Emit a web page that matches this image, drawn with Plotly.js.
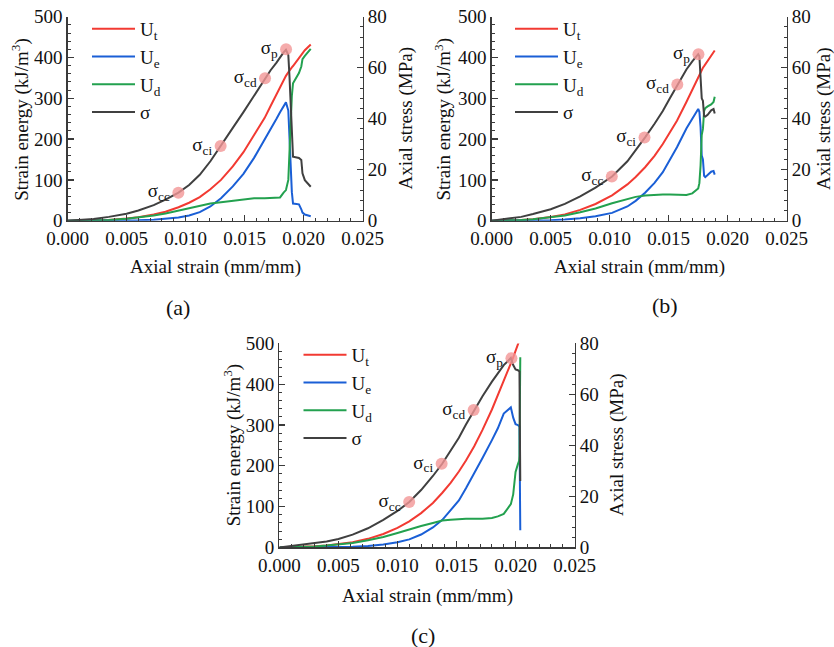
<!DOCTYPE html>
<html>
<head>
<meta charset="utf-8">
<script src="https://cdn.plot.ly/plotly-3.0.1.min.js"></script>
<style>
  html, body { margin: 0; padding: 0; background: #ffffff; }
  #chart { width: 834px; height: 647px; }
</style>
</head>
<body>
<div id="chart"></div>
<script>
// ---------------- data ----------------
const seriesNames = ['U<sub>t</sub>', 'U<sub>e</sub>', 'U<sub>d</sub>', 'σ'];
const keyLabels = ['σ<sub>cc</sub>', 'σ<sub>ci</sub>', 'σ<sub>cd</sub>', 'σ<sub>p</sub>'];
const panelLabels = ['(a)', '(b)', '(c)'];

// Panel (a)
const strainA = [0, 0.0010, 0.0022, 0.0035, 0.0050, 0.0060, 0.0073, 0.0083, 0.0094, 0.0103,
                 0.0112, 0.0121, 0.0130, 0.0140, 0.0149, 0.0158, 0.0167, 0.0172, 0.0177, 0.0180,
                 0.0183, 0.0185, 0.0187, 0.0188, 0.0189, 0.0190, 0.0191, 0.0196, 0.0198, 0.0199,
                 0.0201, 0.0206];
const utA = [0, 0.1, 0.6, 2.0, 5.2, 8.5, 15, 22, 33, 44,
             58, 77, 100, 133, 168, 209, 252, 281, 310, 328,
             344, 355, 364, 369, 373, 376, 379, 400, 408, 412,
             418, 432];
const ueA = [0, 0, 0, 0.2, 0.5, 1.0, 2.4, 4.4, 7.8, 12.6,
             21, 35, 55, 84, 115, 154, 198, 224, 250, 266,
             282, 290, 270, 200, 124, 70, 42, 40, 28, 20,
             15, 11];
const udA = [0, 0.1, 0.6, 1.8, 4.7, 7.5, 12.6, 17.6, 25.2, 31.4,
             37, 42, 45, 49, 53, 55, 55, 56, 56, 57,
             69, 75, 100, 170, 250, 306, 337, 362, 378, 396,
             404, 421];
const sigmaA = [0, 0.2, 0.65, 1.5, 2.7, 4.0, 6.1, 8.3, 11.0, 14.0,
                18.0, 23.3, 29.3, 36.4, 42.6, 49.1, 55.6, 59.0, 62.0, 64.2,
                66.0, 67.0, 65.0, 56.5, 43.4, 32.9, 25.1, 24.6, 23.8, 18.6,
                15.9, 13.3];
const keyStrainA = [0.00939, 0.01297, 0.01673, 0.01851];
const keyStressA = [11.0, 29.3, 55.9, 67.2];

// Panel (b)
const strainB = [0, 0.0010, 0.0018, 0.0025, 0.0035, 0.0050, 0.0062, 0.0075, 0.0088, 0.0102,
                 0.0115, 0.0122, 0.0130, 0.0138, 0.0145, 0.0151, 0.0157, 0.0165, 0.0170, 0.0175,
                 0.0176, 0.0177, 0.0178, 0.0179, 0.0180, 0.0181, 0.0183, 0.0186, 0.0188, 0.0189];
const utB = [0, 0.3, 0.9, 1.7, 3.7, 9, 15.5, 26.5, 41, 62,
             89, 107, 131, 159, 188, 215, 245, 291, 322, 353,
             359, 365, 370, 375, 379, 383, 392, 405, 413, 417];
const ueB = [0, 0, 0.1, 0.1, 0.4, 1.3, 2.8, 5.8, 10.9, 19.2,
             34.9, 48.6, 68.7, 92.8, 119, 148, 180, 226, 251, 274,
             267, 230, 160, 150, 110, 107, 112, 120, 122, 113];
const udB = [0, 0.3, 0.8, 1.6, 3.3, 7.7, 12.7, 20.7, 30, 42.8,
             54, 58.4, 62, 64, 64, 64, 63, 63, 67, 79,
             92, 135, 210, 225, 269, 276, 280, 285, 291, 304];
const sigmaB = [0, 0.6, 0.9, 1.5, 2.6, 4.5, 6.6, 9.5, 13.0, 17.3,
                23.3, 27.5, 32.7, 38.0, 43.0, 48.0, 53.0, 59.3, 62.5, 65.3,
                64.5, 58, 48, 47, 41, 40.8, 41.5, 43.3, 43.8, 42];
const keyStrainB = [0.01018, 0.01295, 0.01573, 0.01752];
const keyStressB = [17.3, 32.6, 53.4, 65.3];

// Panel (c)
const strainC = [0, 0.0015, 0.0030, 0.0040, 0.0050, 0.0062, 0.0075, 0.0088, 0.0100, 0.0110,
                 0.0120, 0.0130, 0.0138, 0.0145, 0.0152, 0.0158, 0.0165, 0.0172, 0.0180, 0.0185,
                 0.0190, 0.0194, 0.0196, 0.0198, 0.0200, 0.0202, 0.0203, 0.02033, 0.0204];
const utC = [0, 0.6, 2.7, 4.8, 7.6, 12.6, 21, 33, 48, 64,
             84, 109, 134, 158, 186, 213, 248, 288, 338, 372,
             407, 436, 451, 466, 484, 499, 506, 508, 512];
const ueC = [0, 0, 0.2, 0.3, 0.7, 1.6, 3.5, 7.3, 12.7, 19.7,
             31.5, 49, 67.4, 90, 115, 145, 181, 219, 263, 292,
             328, 338, 343, 318, 302, 300, 298, 296, 42];
const udC = [0, 0.6, 2.5, 4.5, 6.9, 11, 17.5, 25.7, 35.3, 44.3,
             52.5, 60, 66, 68, 70, 70, 70, 70, 72, 76,
             82, 98, 106, 130, 185, 204, 212, 225, 466];
const sigmaC = [0, 0.8, 1.8, 2.3, 3.3, 5.0, 7.5, 10.8, 14.3, 17.8,
                22.5, 28.0, 32.9, 38.0, 43.0, 48.2, 53.9, 59.3, 65.0, 68.5,
                71.5, 73.3, 74.3, 71.5, 69.8, 69.5, 69.3, 69.0, 26];
const keyStrainC = [0.01099, 0.01374, 0.01645, 0.01965];
const keyStressC = [17.8, 32.8, 53.9, 74.2];

// ---------------- styling ----------------
const FONT = '"Liberation Serif", "Times New Roman", Times, serif';
const colors = ['#f23a32', '#1a5fd6', '#23a14f', '#404040'];
const axisColor = '#3a3a3a';

const panels = [
  {x: 'x',  yl: 'y',  yr: 'y2', legend: 'legend',  strain: strainA, ut: utA, ue: ueA, ud: udA, sig: sigmaA, ks: keyStrainA, kv: keyStressA},
  {x: 'x2', yl: 'y3', yr: 'y4', legend: 'legend2', strain: strainB, ut: utB, ue: ueB, ud: udB, sig: sigmaB, ks: keyStrainB, kv: keyStressB},
  {x: 'x3', yl: 'y5', yr: 'y6', legend: 'legend3', strain: strainC, ut: utC, ue: ueC, ud: udC, sig: sigmaC, ks: keyStrainC, kv: keyStressC}
];

const traces = [];
panels.forEach(p => {
  const ys = [p.ut, p.ue, p.ud];
  ys.forEach((arr, i) => {
    traces.push({
      type: 'scatter', mode: 'lines', x: p.strain, y: arr,
      xaxis: p.x, yaxis: p.yl, name: seriesNames[i], legend: p.legend,
      line: {color: colors[i], width: 2}, hoverinfo: 'skip'
    });
  });
  traces.push({
    type: 'scatter', mode: 'lines', x: p.strain, y: p.sig,
    xaxis: p.x, yaxis: p.yr, name: seriesNames[3], legend: p.legend,
    line: {color: colors[3], width: 2}, hoverinfo: 'skip'
  });
  traces.push({
    type: 'scatter', mode: 'markers+text', x: p.ks, y: p.kv,
    xaxis: p.x, yaxis: p.yr, showlegend: false, text: keyLabels,
    textposition: 'middle left',
    textfont: {family: FONT, size: 19, color: '#111'},
    marker: {size: 12, color: 'rgba(243,150,150,0.8)', line: {width: 0}},
    hoverinfo: 'skip'
  });
});

function xAxis(domain, anchor) {
  return {
    domain: domain, anchor: anchor, range: [0, 0.025], dtick: 0.005, tick0: 0,
    tickformat: '.3f', showgrid: false, zeroline: false,
    showline: true, linecolor: axisColor, linewidth: 1.3,
    ticks: 'inside', ticklen: 6, tickwidth: 1.3, tickcolor: axisColor,
    minor: {dtick: 0.001, ticks: 'inside', ticklen: 3, tickcolor: axisColor, tickwidth: 1},
    tickfont: {family: FONT, size: 19, color: '#111'}, fixedrange: true
  };
}
function yLeft(domain, anchor) {
  return {
    domain: domain, anchor: anchor, range: [0, 500], dtick: 100, tick0: 0,
    showgrid: false, zeroline: false,
    showline: true, linecolor: axisColor, linewidth: 1.3,
    ticks: 'inside', ticklen: 6, tickwidth: 1.3, tickcolor: axisColor,
    minor: {dtick: 20, ticks: 'inside', ticklen: 3, tickcolor: axisColor, tickwidth: 1},
    tickfont: {family: FONT, size: 19, color: '#111'}, fixedrange: true
  };
}
function yRight(overlay, anchor) {
  return {
    overlaying: overlay, anchor: anchor, side: 'right', range: [0, 80], dtick: 20, tick0: 0,
    showgrid: false, zeroline: false,
    showline: true, linecolor: axisColor, linewidth: 1.3,
    ticks: 'inside', ticklen: 6, tickwidth: 1.3, tickcolor: axisColor,
    minor: {dtick: 4, ticks: 'inside', ticklen: 3, tickcolor: axisColor, tickwidth: 1},
    tickfont: {family: FONT, size: 19, color: '#111'}, fixedrange: true
  };
}
function legendAt(x, y) {
  return {
    x: x, y: y, xanchor: 'left', yanchor: 'top', xref: 'paper', yref: 'paper',
    bgcolor: 'rgba(0,0,0,0)', borderwidth: 0, itemwidth: 43,
    font: {family: FONT, size: 19, color: '#111'}, tracegroupgap: 0
  };
}

const W = 834, H = 647;
const px = v => v / W;
const py = v => (H - v) / H;

const topY = [py(220.7), py(16.7)];
const botY = [py(547.4), py(343.4)];

function title(text, x, y, angle, size) {
  return {
    text: text, x: x, y: y, xref: 'paper', yref: 'paper', showarrow: false,
    xanchor: 'center', yanchor: 'middle', textangle: angle || 0,
    font: {family: FONT, size: size || 19, color: '#111'}
  };
}

const annotations = [
  // panel (a)
  title('Axial strain (mm/mm)', px(215.5), py(267)),
  title('Strain energy (kJ/m<sup>3</sup>)', px(20.7), py(119), -90),
  title('Axial stress (MPa)', px(405.5), py(119), -90),
  title(panelLabels[0], px(178), py(307), 0, 22),
  // panel (b)
  title('Axial strain (mm/mm)', px(639), py(267)),
  title('Strain energy (kJ/m<sup>3</sup>)', px(443.5), py(119), -90),
  title('Axial stress (MPa)', px(824), py(119), -90),
  title(panelLabels[1], px(665), py(305), 0, 22),
  // panel (c)
  title('Axial strain (mm/mm)', px(427.3), py(596)),
  title('Strain energy (kJ/m<sup>3</sup>)', px(232.3), py(445), -90),
  title('Axial stress (MPa)', px(617), py(445), -90),
  title(panelLabels[2], px(422.7), py(635), 0, 22)
];

const layout = {
  width: W, height: H,
  margin: {l: 0, r: 0, t: 0, b: 0, pad: 0},
  paper_bgcolor: '#ffffff', plot_bgcolor: 'rgba(0,0,0,0)',
  font: {family: FONT, size: 19, color: '#111'},
  showlegend: true,
  xaxis:  xAxis([px(67.5), px(362.7)], 'y'),
  yaxis:  yLeft(topY, 'x'),
  yaxis2: yRight('y', 'x'),
  xaxis2: xAxis([px(491.7), px(786.7)], 'y3'),
  yaxis3: yLeft(topY, 'x2'),
  yaxis4: yRight('y3', 'x2'),
  xaxis3: xAxis([px(279.4), px(574.6)], 'y5'),
  yaxis5: yLeft(botY, 'x3'),
  yaxis6: yRight('y5', 'x3'),
  legend:  legendAt(px(87), py(10)),
  legend2: legendAt(px(510), py(10)),
  legend3: legendAt(px(298.5), py(336)),
  annotations: annotations
};

Plotly.newPlot('chart', traces, layout, {displayModeBar: false, staticPlot: true});
</script>
</body>
</html>
